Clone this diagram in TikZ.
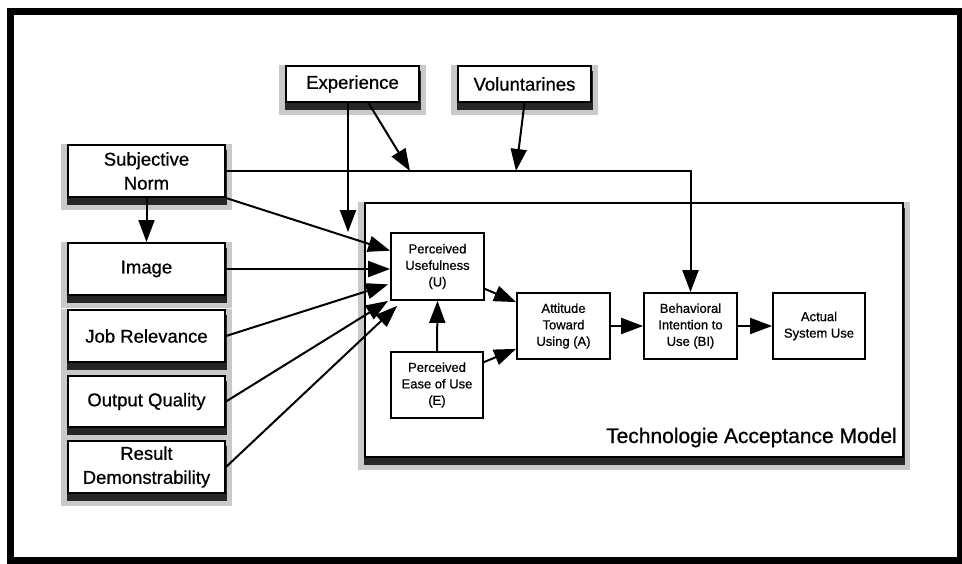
\documentclass[tikz,border=0pt]{standalone}
\usepackage{fontspec}
\setmainfont{Liberation Sans}[FakeBold=0.7]
\usetikzlibrary{arrows.meta,shadows,calc}
\begin{document}
\begin{tikzpicture}[x=1pt,y=-1pt,
  halo/.style={general shadow={fill=gray!42,draw=gray!42,line width=14pt,shadow yshift=-6pt}},
  darkband/.style={general shadow={fill=black!85,draw=black!85,line width=3pt,shadow yshift=-6pt}},
  outerbox/.style={draw,line width=2pt,fill=white,halo,darkband,inner sep=0pt,align=center,
    font=\fontsize{18.5}{24}\selectfont},
  innerbox/.style={draw,line width=1.8pt,fill=white,inner sep=0pt,align=center,
    minimum width=93pt,minimum height=66pt,font=\fontsize{13}{16.5}\selectfont},
  arr/.style={line width=2pt,-{Triangle[length=22pt,width=16pt]}},
  wide/.style={minimum width=157pt,minimum height=52pt},
  top/.style={minimum width=133pt,minimum height=36pt}
]
\useasboundingbox (0,0) rectangle (962,563);
\fill[white] (0,0) rectangle (962,563);
\draw[line width=7pt] (10,11) rectangle (960,560);

% TAM container
\node[draw,line width=2pt,fill=white,halo,darkband,minimum width=538pt,minimum height=254pt,inner sep=0pt] (tam) at (634,330) {};
\node[anchor=base east,inner sep=0pt,font=\fontsize{21}{25}\selectfont] (tamlabel) at (897,443) {Technologie Acceptance Model};

% outer boxes
\node[outerbox,top] (exp) at (352.5,84) {Experience};
\node[outerbox,top] (vol) at (524.5,84) {Voluntarines};
\node[outerbox,wide] (sn) at (146.5,171) {Subjective\\Norm};
\node[outerbox,wide] (img) at (146.5,269) {Image};
\node[outerbox,wide] (jr) at (146.5,336) {Job Relevance};
\node[outerbox,wide,minimum height=51pt] (oq) at (146.5,401.5) {Output Quality};
\node[outerbox,wide] (rd) at (146.5,467) {Result\\Demonstrability};

% inner boxes
\node[innerbox,minimum height=67pt] (pu) at (437.5,266.5) {Perceived\\Usefulness\\(U)};
\node[innerbox,minimum width=92pt] (peu) at (437,385) {Perceived\\Ease of Use\\(E)};
\node[innerbox] (att) at (563.5,326) {Attitude\\Toward\\Using (A)};
\node[innerbox] (bi) at (690.5,326) {Behavioral\\Intention to\\Use (BI)};
\node[innerbox,minimum width=92pt] (asu) at (819,326) {Actual\\System Use};

% helper coordinates
\coordinate (expdown) at ($(exp.south)+(-4.5,0)$);
\coordinate (expdiag) at ($(exp.south)+(16,0)$);
\coordinate (busE) at (410,171);
\coordinate (busV) at (516,171);

% connectors
\draw[arr] (sn.east) -| (bi.north);
\draw[arr] (expdown) -- (expdown |- pu.north);
\draw[arr] (expdiag) -- (busE);
\draw[arr] (vol.south) -- (busV);
\draw[arr] (sn.south) -- (img.north);
\draw[arr] (sn.south east) -- ($(pu.north west)!0.27!(pu.south west)$);
\draw[arr] (img.east) -- (img.east -| pu.west);
\draw[arr] (jr.east) -- ($(pu.north west)!0.76!(pu.south west)+(-2,0)$);
\draw[arr] (oq.east) -- ($(pu.south west)+(-2,0)$);
\draw[arr] (rd.east) -- ($(pu.south west)+(7,5)$);
\draw[arr] (peu.north) -- (pu.south);
\draw[arr] ($(pu.south east)+(0,-12)$) -- ($(att.north west)+(0,10)$);
\draw[arr] ($(peu.north east)+(0,11)$) -- ($(att.south west)+(0,-11)$);
\draw[arr] (att.east) -- (bi.west);
\draw[arr] (bi.east) -- (asu.west);
\end{tikzpicture}
\end{document}
